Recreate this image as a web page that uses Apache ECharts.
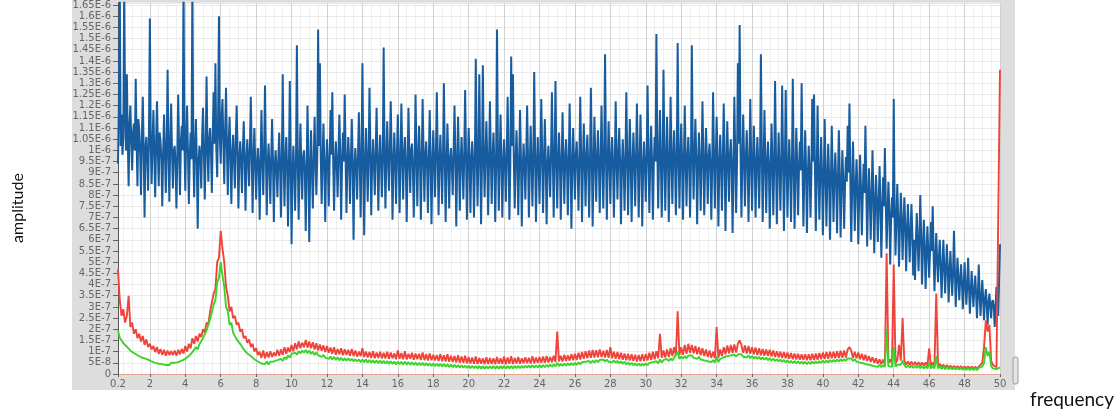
<!DOCTYPE html>
<html>
<head>
<meta charset="utf-8">
<script src="https://cdn.jsdelivr.net/npm/echarts@6/dist/echarts.min.js"></script>
<style>
  html, body { margin: 0; padding: 0; background: #fff; }
  #chart { width: 1120px; height: 411px; }
</style>
</head>
<body>
<div id="chart"></div>
<script>
// spectrum bins start at 0.2 Hz and end at 50 Hz
const freqStart = 0.2;
const blueStep = 0.05;   // blue spectrum bin width
const lowStep = 0.1;     // red / green spectrum bin width
// amplitudes in units of 1E-7
const ampUnit = 1e-7;

const blueAmp = [
  9.4, 12.0, 17.5, 10.2, 11.6, 9.8, 10.6, 17.5, 11.8, 10.0, 13.4, 10.6, 8.4, 11.2, 12.0, 10.4, 9.1, 10.8, 11.2, 10.0,
  13.2, 10.4, 8.4, 11.4, 10.9, 9.9, 8.0, 10.6, 12.4, 10.1, 7.0, 10.1, 10.6, 9.6, 8.2, 11.0, 15.9, 10.2, 8.5, 10.4,
  11.8, 9.8, 7.9, 10.3, 12.2, 10.0, 8.4, 10.8, 10.4, 9.6, 7.5, 9.9, 11.6, 9.9, 8.1, 10.2, 13.6, 9.8, 7.7, 10.5,
  12.1, 9.9, 8.3, 10.0, 10.2, 9.4, 7.4, 9.8, 12.5, 10.1, 8.0, 10.4, 11.1, 10.0, 17.5, 10.3, 8.2, 10.7, 12.0, 9.9,
  7.6, 9.7, 10.8, 9.6, 17.5, 10.1, 7.9, 10.2, 11.4, 9.5, 6.5, 9.5, 10.2, 9.7, 8.3, 10.6, 11.9, 9.9, 7.8, 10.0,
  13.3, 10.2, 8.6, 10.5, 11.0, 9.9, 8.1, 10.7, 12.6, 10.3, 13.9, 10.1, 8.8, 11.3, 16.0, 10.6, 9.4, 11.5, 12.3, 10.3,
  8.5, 10.9, 12.8, 10.2, 8.0, 10.3, 11.5, 9.8, 7.6, 9.8, 10.7, 9.6, 8.3, 10.5, 12.0, 9.9, 7.4, 9.6, 10.4, 9.5,
  8.1, 10.0, 11.3, 9.7, 7.3, 9.5, 10.5, 9.5, 8.4, 10.2, 12.4, 9.8, 7.2, 9.7, 11.0, 9.4, 7.8, 9.4, 10.1, 9.3,
  6.9, 9.5, 11.8, 9.6, 8.0, 9.9, 12.9, 9.9, 7.1, 9.3, 10.3, 9.3, 7.6, 9.6, 11.4, 9.6, 6.8, 9.3, 10.0, 9.2,
  7.9, 9.5, 10.8, 9.4, 7.0, 9.3, 13.4, 9.7, 7.5, 9.6, 10.6, 9.2, 6.6, 9.2, 13.1, 9.5, 5.8, 9.0, 10.2, 9.1,
  7.3, 9.5, 14.7, 9.7, 6.9, 9.3, 11.2, 9.3, 7.8, 9.7, 10.0, 9.1, 6.4, 9.1, 12.0, 9.5, 5.9, 9.0, 10.9, 9.2,
  7.4, 9.4, 11.5, 9.6, 8.0, 9.8, 15.4, 10.2, 13.9, 9.7, 7.6, 9.5, 11.2, 9.4, 6.8, 9.3, 10.5, 9.4, 7.5, 9.6,
  11.8, 9.8, 12.6, 9.6, 7.3, 9.5, 10.4, 9.4, 7.9, 9.8, 11.6, 9.7, 6.9, 9.4, 10.8, 9.5, 12.5, 9.9, 7.2, 9.3,
  10.6, 9.6, 7.6, 9.6, 11.4, 9.5, 6.0, 9.2, 10.1, 9.3, 7.8, 9.7, 11.7, 9.6, 7.0, 9.5, 13.9, 9.8, 6.2, 9.2,
  11.0, 9.5, 7.7, 9.8, 12.8, 9.8, 7.1, 9.4, 10.5, 9.4, 8.0, 9.9, 11.9, 9.6, 7.3, 9.5, 10.7, 9.5, 7.9, 9.7,
  14.6, 9.9, 7.4, 9.6, 11.3, 9.6, 8.2, 10.0, 12.2, 9.8, 6.9, 9.4, 10.8, 9.5, 7.6, 9.8, 11.6, 9.7, 7.2, 9.5,
  12.1, 9.8, 7.8, 9.9, 10.6, 9.4, 6.8, 9.3, 11.9, 9.7, 8.1, 10.0, 10.3, 9.3, 7.0, 9.4, 12.5, 9.9, 7.5, 9.7,
  11.1, 9.6, 6.9, 9.5, 12.3, 9.8, 7.7, 9.8, 10.4, 9.4, 7.2, 9.6, 11.8, 9.6, 6.7, 9.3, 10.9, 9.5, 7.9, 9.8,
  12.6, 9.9, 7.1, 9.4, 10.7, 9.5, 7.6, 9.7, 13.0, 9.8, 6.8, 9.3, 11.2, 9.6, 7.4, 9.6, 10.1, 9.3, 8.0, 9.9,
  12.0, 9.7, 6.6, 9.3, 11.5, 9.7, 7.3, 9.5, 10.6, 9.4, 7.8, 9.8, 12.7, 9.8, 6.9, 9.3, 11.0, 9.6, 7.2, 9.6,
  10.4, 9.5, 7.0, 9.4, 14.1, 10.1, 7.5, 9.7, 13.4, 9.7, 6.7, 9.3, 13.8, 9.9, 7.9, 9.8, 11.3, 9.6, 7.1, 9.5,
  12.2, 9.8, 7.6, 9.7, 10.8, 9.5, 6.8, 9.3, 15.4, 10.1, 7.3, 9.6, 11.6, 9.6, 7.0, 9.4, 10.5, 9.4, 7.7, 9.8,
  12.4, 9.7, 6.9, 9.3, 14.2, 10.2, 13.4, 9.6, 7.4, 9.5, 10.9, 9.5, 7.1, 9.4, 11.8, 9.7, 6.6, 9.2, 10.3, 9.4,
  7.8, 9.7, 12.0, 9.7, 7.0, 9.3, 11.1, 9.5, 7.5, 9.6, 13.5, 9.9, 6.8, 9.2, 10.6, 9.4, 7.6, 9.7, 12.3, 9.8,
  7.2, 9.4, 11.4, 9.6, 6.7, 9.2, 10.2, 9.3, 7.9, 9.8, 12.6, 9.8, 7.0, 9.5, 13.1, 9.7, 7.4, 9.6, 10.8, 9.5,
  6.9, 9.3, 11.7, 9.6, 7.6, 9.6, 10.5, 9.4, 7.1, 9.4, 12.1, 9.7, 6.5, 9.2, 11.0, 9.5, 7.8, 9.8, 10.4, 9.3,
  7.3, 9.5, 12.4, 9.8, 6.8, 9.3, 11.2, 9.6, 7.5, 9.7, 10.7, 9.4, 7.0, 9.4, 12.8, 9.9, 6.6, 9.2, 11.5, 9.6,
  7.7, 9.7, 10.9, 9.5, 7.2, 9.4, 12.0, 9.7, 7.4, 9.6, 14.3, 10.0, 6.9, 9.3, 11.3, 9.6, 7.6, 9.7, 10.6, 9.4,
  7.0, 9.3, 12.2, 9.7, 7.8, 9.8, 11.0, 9.5, 6.7, 9.2, 10.5, 9.4, 7.3, 9.5, 12.6, 9.8, 7.1, 9.4, 11.4, 9.6,
  6.8, 9.3, 10.8, 9.5, 7.5, 9.6, 12.1, 9.7, 7.0, 9.3, 11.6, 9.6, 6.6, 9.2, 10.4, 9.4, 7.7, 9.7, 12.9, 9.9,
  7.2, 9.4, 11.1, 9.6, 6.9, 9.3, 10.6, 9.5, 15.2, 10.2, 7.4, 9.6, 11.8, 9.7, 7.0, 9.3, 13.6, 9.8, 7.3, 9.5,
  11.5, 9.7, 6.8, 9.3, 12.4, 9.8, 7.6, 9.7, 10.9, 9.5, 7.1, 9.4, 14.8, 10.1, 7.4, 9.6, 11.2, 9.6, 6.9, 9.3,
  12.0, 9.7, 7.5, 9.6, 10.6, 9.5, 7.0, 9.3, 14.7, 10.2, 7.8, 9.8, 11.4, 9.7, 6.7, 9.2, 10.8, 9.5, 7.3, 9.5,
  12.2, 9.8, 7.1, 9.3, 11.0, 9.6, 7.6, 9.7, 10.3, 9.4, 6.9, 9.3, 12.6, 9.8, 7.4, 9.6, 11.5, 9.7, 6.6, 9.2,
  10.7, 9.5, 7.3, 9.5, 12.1, 9.7, 6.4, 9.1, 11.3, 9.6, 7.7, 9.7, 10.5, 9.4, 6.3, 9.0, 12.4, 9.8, 7.2, 9.4,
  13.9, 10.3, 15.6, 10.0, 7.0, 9.3, 11.6, 9.7, 7.5, 9.6, 10.9, 9.5, 6.8, 9.2, 12.3, 9.7, 7.3, 9.5, 11.1, 9.6,
  7.0, 9.3, 10.6, 9.4, 7.4, 9.5, 14.3, 10.1, 6.8, 9.2, 11.8, 9.6, 7.2, 9.4, 10.4, 9.3, 6.5, 9.1, 11.2, 9.5,
  7.1, 9.3, 13.1, 9.8, 6.7, 9.1, 10.8, 9.3, 7.3, 9.4, 12.9, 9.7, 6.4, 9.0, 12.7, 9.6, 7.0, 9.2, 10.5, 9.2,
  6.8, 9.1, 13.2, 9.6, 6.5, 8.9, 11.0, 9.3, 7.1, 9.2, 10.4, 9.1, 13.0, 9.4, 6.6, 8.9, 10.9, 9.2, 6.3, 8.8,
  10.2, 9.1, 7.0, 9.0, 12.3, 9.5, 12.5, 9.3, 6.4, 8.8, 12.0, 9.2, 6.9, 8.9, 10.6, 9.0, 6.2, 8.6, 11.4, 9.1,
  6.6, 8.7, 10.3, 8.9, 6.0, 8.5, 11.1, 9.0, 6.8, 8.8, 9.9, 8.7, 6.3, 8.6, 10.9, 8.9, 6.1, 8.4, 10.0, 8.6,
  6.5, 8.5, 9.7, 8.6, 11.1, 9.0, 12.1, 8.9, 5.9, 8.2, 10.4, 8.6, 6.4, 8.3, 9.6, 8.3, 5.8, 8.0, 9.8, 8.3,
  6.2, 8.0, 9.4, 8.1, 11.1, 8.5, 5.7, 7.8, 9.2, 7.9, 6.0, 7.9, 10.0, 8.0, 5.4, 7.5, 8.9, 7.7, 5.9, 7.5,
  9.3, 7.7, 5.2, 7.2, 8.8, 7.5, 10.1, 7.7, 5.6, 7.2, 8.6, 7.3, 4.9, 6.9, 7.9, 7.0, 12.3, 7.4, 5.3, 6.9,
  8.5, 7.0, 4.8, 6.6, 8.1, 6.9, 5.1, 6.7, 7.9, 6.6, 4.6, 6.3, 7.6, 6.4, 5.0, 6.3, 7.6, 6.3, 4.4, 6.0,
  4.2, 5.9, 7.2, 6.0, 4.6, 6.0, 8.0, 6.1, 4.0, 5.6, 6.9, 5.7, 3.8, 5.3, 6.6, 5.5, 4.3, 5.5, 6.8, 5.5,
  7.5, 5.5, 3.7, 5.1, 6.3, 5.1, 4.1, 5.2, 6.0, 4.9, 3.4, 4.7, 6.0, 4.9, 3.6, 4.6, 5.8, 4.8, 3.2, 4.5,
  5.5, 4.5, 3.5, 4.5, 6.4, 4.7, 3.0, 4.2, 5.2, 4.3, 3.3, 4.2, 4.9, 4.1, 2.9, 3.9, 5.0, 4.0, 3.1, 3.9,
  5.2, 3.9, 2.7, 3.7, 4.6, 3.7, 3.0, 3.8, 4.4, 3.6, 2.5, 3.5, 4.9, 3.6, 2.6, 3.4, 4.2, 3.4, 2.4, 3.3,
  3.8, 3.2, 2.2, 3.1, 3.6, 3.1, 2.5, 3.2, 3.3, 3.0, 2.1, 3.0, 3.9, 3.2, 2.6, 4.2, 5.8
];

const redAmp = [
  4.7, 3.3, 2.6, 2.9, 2.3, 2.6, 3.5, 2.1, 2.3, 1.8,
  2.0, 1.6, 1.8, 1.45, 1.7, 1.3, 1.55, 1.2, 1.35, 1.1,
  1.25, 0.98, 1.2, 0.9, 1.12, 0.85, 1.08, 0.82, 1.05, 0.85,
  1.02, 0.84, 1.05, 0.82, 1.08, 0.88, 1.12, 0.92, 1.25, 1.0,
  1.35, 1.15, 1.6, 1.35, 1.7, 1.45, 1.8, 1.65, 2.0, 1.85,
  2.3, 2.2, 2.8, 2.8, 3.6, 3.8, 5.0, 5.2, 6.4, 5.6,
  5.0, 3.9, 3.5, 2.8, 3.0, 2.5, 2.6, 2.2, 2.3, 1.9,
  2.0, 1.6, 1.7, 1.4, 1.55, 1.2, 1.35, 1.0, 1.15, 0.85,
  1.0, 0.72, 1.05, 0.7, 0.98, 0.74, 1.02, 0.76, 0.96, 0.8,
  1.08, 0.82, 1.1, 0.85, 1.2, 0.9, 1.18, 0.98, 1.3, 1.02,
  1.38, 1.1, 1.45, 1.15, 1.4, 1.2, 1.52, 1.18, 1.45, 1.15,
  1.42, 1.1, 1.38, 1.05, 1.32, 1.04, 1.28, 0.98, 1.25, 0.95,
  1.18, 0.9, 1.2, 0.86, 1.12, 0.88, 1.15, 0.84, 1.1, 0.85,
  1.08, 0.82, 1.12, 0.8, 1.05, 0.78, 1.0, 0.8, 1.15, 0.76,
  1.0, 0.74, 0.98, 0.72, 1.02, 0.7, 0.96, 0.72, 1.0, 0.7,
  0.95, 0.7, 1.0, 0.68, 0.96, 0.7, 0.92, 0.66, 1.05, 0.68,
  0.94, 0.66, 1.02, 0.65, 0.9, 0.68, 0.95, 0.64, 0.92, 0.66,
  0.9, 0.63, 0.96, 0.62, 0.88, 0.6, 0.92, 0.62, 0.86, 0.6,
  0.85, 0.58, 0.9, 0.57, 0.84, 0.56, 0.88, 0.55, 0.82, 0.54,
  0.8, 0.52, 0.84, 0.5, 0.78, 0.5, 0.82, 0.48, 0.76, 0.47,
  0.74, 0.46, 0.78, 0.45, 0.72, 0.46, 0.7, 0.44, 0.75, 0.45,
  0.72, 0.45, 0.7, 0.44, 0.76, 0.46, 0.7, 0.45, 0.78, 0.44,
  0.74, 0.46, 0.8, 0.45, 0.72, 0.47, 0.76, 0.46, 0.7, 0.48,
  0.75, 0.48, 0.72, 0.47, 0.8, 0.48, 0.74, 0.5, 0.76, 0.5,
  0.78, 0.5, 0.8, 0.52, 0.76, 0.53, 0.82, 0.54, 1.9, 0.56,
  0.82, 0.56, 0.86, 0.58, 0.84, 0.6, 0.88, 0.62, 0.9, 0.63,
  0.95, 0.65, 0.98, 0.68, 1.02, 0.7, 1.05, 0.72, 1.08, 0.74,
  1.06, 0.75, 1.1, 0.76, 1.04, 0.74, 1.08, 0.72, 1.2, 0.7,
  1.0, 0.68, 0.98, 0.66, 0.95, 0.64, 0.92, 0.62, 0.9, 0.6,
  0.88, 0.58, 0.86, 0.56, 0.85, 0.57, 0.88, 0.58, 0.9, 0.6,
  0.95, 0.62, 1.0, 0.66, 1.02, 0.7, 1.8, 0.72, 1.05, 0.74,
  1.1, 0.76, 1.15, 0.8, 1.2, 0.82, 2.8, 0.85, 1.2, 0.86,
  1.3, 0.9, 1.35, 0.95, 1.3, 0.92, 1.25, 0.88, 1.2, 0.84,
  1.15, 0.8, 1.1, 0.76, 1.05, 0.72, 1.0, 0.7, 2.1, 0.72,
  1.1, 0.8, 1.2, 0.88, 1.28, 0.92, 1.3, 0.95, 1.32, 0.96,
  1.35, 1.5, 1.3, 0.95, 1.28, 0.92, 1.25, 0.9, 1.2, 0.88,
  1.18, 0.85, 1.15, 0.84, 1.12, 0.82, 1.1, 0.8, 1.08, 0.78,
  1.05, 0.76, 1.02, 0.74, 1.0, 0.72, 0.98, 0.7, 0.96, 0.68,
  0.94, 0.66, 0.92, 0.65, 0.9, 0.64, 0.88, 0.63, 0.88, 0.62,
  0.88, 0.62, 0.9, 0.63, 0.92, 0.64, 0.94, 0.66, 0.96, 0.67,
  0.98, 0.68, 1.0, 0.7, 1.0, 0.7, 1.02, 0.72, 1.04, 0.73,
  1.05, 0.74, 1.1, 1.2, 1.05, 0.72, 1.0, 0.7, 0.96, 0.66,
  0.9, 0.62, 0.86, 0.58, 0.8, 0.54, 0.75, 0.5, 0.7, 0.46,
  0.66, 0.44, 0.64, 0.44, 5.4, 0.5, 0.66, 0.46, 4.9, 0.48,
  0.62, 1.3, 0.6, 2.5, 0.58, 0.42, 0.56, 0.4, 0.55, 0.4,
  0.54, 0.39, 0.53, 0.38, 0.52, 0.38, 0.52, 0.37, 1.15, 0.37,
  0.5, 0.36, 3.6, 0.35, 0.45, 0.3, 0.42, 0.28, 0.4, 0.27,
  0.38, 0.26, 0.37, 0.25, 0.36, 0.24, 0.35, 0.24, 0.34, 0.23,
  0.34, 0.23, 0.33, 0.22, 0.33, 0.22, 0.33, 0.4, 0.5, 1.2,
  2.4, 1.9, 2.2, 0.6, 0.4, 0.35, 0.3, 0.3, 13.6
];

const greenAmp = [
  1.95, 1.62, 1.58, 1.38, 1.38, 1.22, 1.24, 1.04, 1.08, 0.94,
  0.98, 0.84, 0.88, 0.75, 0.82, 0.7, 0.74, 0.64, 0.66, 0.56,
  0.6, 0.5, 0.56, 0.46, 0.53, 0.44, 0.5, 0.4, 0.48, 0.4,
  0.5, 0.42, 0.5, 0.44, 0.53, 0.47, 0.6, 0.52, 0.68, 0.62,
  0.8, 0.72, 0.98, 0.92, 1.2, 1.1, 1.34, 1.3, 1.6, 1.55,
  1.95, 1.9, 2.45, 2.5, 3.1, 3.3, 4.1, 4.3, 5.0, 4.4,
  3.9, 3.0, 2.8, 2.2, 2.3, 1.85, 1.9, 1.55, 1.6, 1.35,
  1.35, 1.1, 1.15, 0.92, 1.0, 0.8, 0.85, 0.66, 0.7, 0.56,
  0.6, 0.47, 0.55, 0.44, 0.56, 0.43, 0.55, 0.47, 0.56, 0.5,
  0.62, 0.54, 0.68, 0.58, 0.75, 0.66, 0.83, 0.73, 0.9, 0.82,
  0.96, 0.86, 1.02, 0.92, 1.05, 0.95, 1.07, 0.93, 1.05, 0.9,
  1.0, 0.85, 0.97, 0.83, 0.9, 0.77, 0.86, 0.73, 0.8, 0.68,
  0.78, 0.65, 0.77, 0.63, 0.75, 0.61, 0.73, 0.6, 0.7, 0.6,
  0.7, 0.59, 0.68, 0.57, 0.66, 0.56, 0.65, 0.53, 0.65, 0.53,
  0.65, 0.51, 0.63, 0.5, 0.61, 0.49, 0.6, 0.48, 0.6, 0.47,
  0.59, 0.47, 0.58, 0.45, 0.57, 0.45, 0.56, 0.43, 0.55, 0.44,
  0.55, 0.43, 0.55, 0.42, 0.53, 0.41, 0.52, 0.4, 0.51, 0.39,
  0.5, 0.39, 0.5, 0.38, 0.49, 0.37, 0.48, 0.36, 0.47, 0.35,
  0.46, 0.35, 0.45, 0.34, 0.45, 0.33, 0.43, 0.32, 0.42, 0.31,
  0.41, 0.3, 0.4, 0.29, 0.39, 0.28, 0.38, 0.27, 0.37, 0.26,
  0.36, 0.26, 0.35, 0.25, 0.35, 0.24, 0.35, 0.24, 0.34, 0.25,
  0.34, 0.25, 0.35, 0.24, 0.35, 0.24, 0.35, 0.25, 0.36, 0.25,
  0.36, 0.25, 0.36, 0.25, 0.36, 0.26, 0.37, 0.26, 0.37, 0.27,
  0.37, 0.28, 0.37, 0.28, 0.39, 0.28, 0.39, 0.29, 0.4, 0.3,
  0.4, 0.31, 0.41, 0.32, 0.42, 0.33, 0.43, 0.34, 0.5, 0.35,
  0.45, 0.36, 0.46, 0.37, 0.48, 0.38, 0.49, 0.4, 0.5, 0.41,
  0.52, 0.43, 0.53, 0.45, 0.55, 0.47, 0.58, 0.49, 0.6, 0.51,
  0.62, 0.53, 0.63, 0.55, 0.65, 0.55, 0.64, 0.55, 0.63, 0.52,
  0.61, 0.5, 0.59, 0.48, 0.57, 0.45, 0.55, 0.43, 0.52, 0.41,
  0.5, 0.39, 0.48, 0.37, 0.47, 0.36, 0.47, 0.37, 0.48, 0.39,
  0.5, 0.42, 0.53, 0.45, 0.57, 0.48, 0.65, 0.51, 0.63, 0.55,
  0.67, 0.57, 0.7, 0.61, 0.73, 0.65, 1.0, 0.67, 0.78, 0.69,
  0.8, 0.7, 0.83, 0.75, 0.83, 0.72, 0.8, 0.68, 0.77, 0.65,
  0.73, 0.61, 0.69, 0.57, 0.65, 0.53, 0.62, 0.51, 0.8, 0.53,
  0.67, 0.61, 0.75, 0.67, 0.8, 0.72, 0.83, 0.75, 0.87, 0.77,
  0.88, 0.8, 0.88, 0.77, 0.85, 0.74, 0.83, 0.71, 0.8, 0.69,
  0.78, 0.67, 0.77, 0.65, 0.75, 0.64, 0.73, 0.62, 0.71, 0.6,
  0.69, 0.58, 0.67, 0.56, 0.65, 0.54, 0.63, 0.52, 0.61, 0.5,
  0.59, 0.48, 0.58, 0.47, 0.57, 0.46, 0.55, 0.45, 0.55, 0.44,
  0.54, 0.45, 0.55, 0.46, 0.57, 0.47, 0.58, 0.49, 0.6, 0.5,
  0.61, 0.51, 0.62, 0.53, 0.63, 0.54, 0.65, 0.55, 0.66, 0.57,
  0.67, 0.58, 0.7, 0.65, 0.69, 0.58, 0.67, 0.55, 0.63, 0.51,
  0.59, 0.47, 0.55, 0.43, 0.51, 0.39, 0.47, 0.35, 0.43, 0.32,
  0.41, 0.31, 0.4, 0.31, 2.0, 0.35, 0.43, 0.32, 1.2, 0.33,
  0.42, 0.5, 0.41, 0.6, 0.4, 0.29, 0.39, 0.28, 0.38, 0.27,
  0.37, 0.27, 0.36, 0.26, 0.36, 0.25, 0.35, 0.25, 0.5, 0.25,
  0.35, 0.25, 0.8, 0.25, 0.34, 0.23, 0.33, 0.22, 0.32, 0.21,
  0.31, 0.21, 0.3, 0.2, 0.29, 0.19, 0.29, 0.18, 0.28, 0.18,
  0.28, 0.17, 0.27, 0.17, 0.27, 0.17, 0.27, 0.2, 0.33, 0.5,
  1.2, 0.8, 1.0, 0.35, 0.25, 0.22, 0.22, 0.22, 0.3
];

function toPoints(amp, step) {
  return amp.map((v, i) => [+(freqStart + i * step).toFixed(2), v * ampUnit]);
}

// 1.05E-6 style tick labels
function sciLabel(v) {
  if (v === 0) return '0';
  const e = Math.floor(Math.log10(v) + 1e-9);
  const m = +(v / Math.pow(10, e)).toFixed(2);
  return m + 'E' + e;
}

const chart = echarts.init(document.getElementById('chart'));

chart.setOption({
  animation: false,
  backgroundColor: '#fff',
  grid: {
    left: 118, right: 120, top: 0, bottom: 37,
    show: true, backgroundColor: '#fff', borderWidth: 0
  },
  graphic: [
    { type: 'rect', z: -10, shape: { x: 72, y: 0, width: 943, height: 390 }, style: { fill: '#dddddd' } },
    { type: 'rect', z: -9, shape: { x: 1013, y: 357, width: 5, height: 27, r: 2 }, style: { fill: '#e4e4e4', stroke: '#9a9a9a', lineWidth: 1 } },
    { type: 'text', x: 18, y: 208, rotation: Math.PI / 2,
      style: { text: 'amplitude', font: '16px Lato', fill: '#111', textAlign: 'center', textVerticalAlign: 'middle' } },
    { type: 'text', x: 1030, y: 400,
      style: { text: 'frequency', font: '19px Lato', fill: '#111', textAlign: 'left', textVerticalAlign: 'middle' } }
  ],
  xAxis: {
    type: 'value',
    min: 0.2, max: 50,
    splitNumber: 25, minInterval: 2, maxInterval: 2,
    axisLine: { show: true, onZero: false, lineStyle: { color: '#e6a58a', width: 1 } },
    axisTick: { show: true, length: 3, lineStyle: { color: '#666' } },
    axisLabel: { color: '#666', fontSize: 10, fontFamily: 'DejaVu Sans', margin: 5, showMinLabel: true, showMaxLabel: true },
    splitLine: { show: true, lineStyle: { color: '#d2d2d2', width: 1 } },
    minorTick: { show: false, splitNumber: 4 },
    minorSplitLine: { show: true, lineStyle: { color: '#efefef', width: 1 } }
  },
  yAxis: {
    type: 'value',
    min: 0, max: 1.66e-6, interval: 5e-8,
    axisLine: { show: true, lineStyle: { color: '#555', width: 1 } },
    axisTick: { show: true, length: 5, lineStyle: { color: '#666' } },
    axisLabel: { color: '#666', fontSize: 10, fontFamily: 'DejaVu Sans', margin: 7, formatter: sciLabel, showMaxLabel: false },
    splitLine: { show: true, lineStyle: { color: '#e9e9e9', width: 1 } }
  },
  series: [
    {
      name: 'blue', type: 'line', data: toPoints(blueAmp, blueStep),
      showSymbol: false, symbol: 'none', sampling: null,
      lineStyle: { color: '#175c9e', width: 2, join: 'bevel' }
    },
    {
      name: 'red', type: 'line', data: toPoints(redAmp, lowStep),
      showSymbol: false, symbol: 'none',
      lineStyle: { color: '#f0443a', width: 1.9, join: 'bevel' }
    },
    {
      name: 'green', type: 'line', data: toPoints(greenAmp, lowStep),
      showSymbol: false, symbol: 'none',
      lineStyle: { color: '#3ad42a', width: 1.9, join: 'bevel' }
    }
  ]
});
</script>
</body>
</html>
